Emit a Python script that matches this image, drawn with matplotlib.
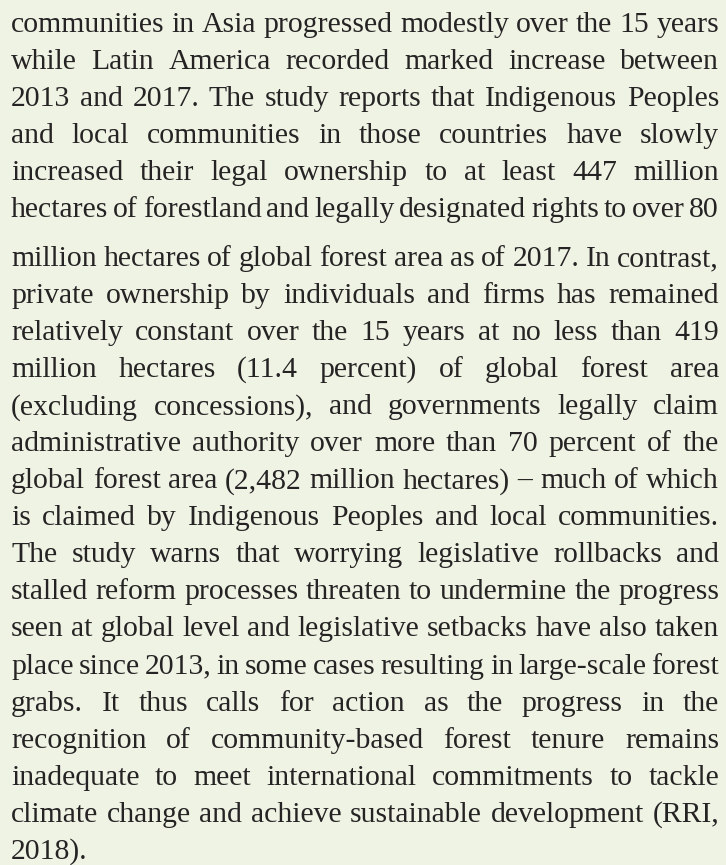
import matplotlib
matplotlib.use("Agg")
import matplotlib.pyplot as plt
from matplotlib.font_manager import FontProperties

# ---- content (the "data" of this figure) ----
para_a = [
    "communities in Asia progressed modestly over the 15 years",
    "while Latin America recorded marked increase between",
    "2013 and 2017. The study reports that Indigenous Peoples",
    "and local communities in those countries have slowly",
    "increased their legal ownership to at least 447 million",
    "hectares of forestland and legally designated rights to over 80",
]
para_b = [
    "million hectares of global forest area as of 2017. In contrast,",
    "private ownership by individuals and firms has remained",
    "relatively constant over the 15 years at no less than 419",
    "million hectares (11.4 percent) of global forest area",
    "(excluding concessions), and governments legally claim",
    "administrative authority over more than 70 percent of the",
    "global forest area (2,482 million hectares) \u2013 much of which",
    "is claimed by Indigenous Peoples and local communities.",
    "The study warns that worrying legislative rollbacks and",
    "stalled reform processes threaten to undermine the progress",
    "seen at global level and legislative setbacks have also taken",
    "place since 2013, in some cases resulting in large-scale forest",
    "grabs. It thus calls for action as the progress in the",
    "recognition of community-based forest tenure remains",
    "inadequate to meet international commitments to tackle",
    "climate change and achieve sustainable development (RRI,",
    "2018).",
]

# ---- layout ----
W, H = 726, 865
DPI = 100
BG = "#EFF3E4"
FG = "#262324"
X0, X1 = 11, 719
BASE_A = 31.5
BASE_B = 266.0
LEAD = 37.05

fig = plt.figure(figsize=(W / DPI, H / DPI), dpi=DPI, facecolor=BG)
ax = fig.add_axes([0, 0, 1, 1])
ax.set_xlim(0, W)
ax.set_ylim(H, 0)
ax.axis("off")
ax.set_facecolor(BG)

renderer = fig.canvas.get_renderer()
fam = "Liberation Serif"


def width(s, size):
    fp = FontProperties(family=fam, size=size)
    w, h, d = renderer.get_text_width_height_descent(s, fp, ismath=False)
    return w


# calibrate font size so a naturally set line spans the column
ref = para_a[0]
size = 20.0 * (X1 - X0) / width(ref, 20.0)


def draw_line(line, y, justify):
    words = line.split(" ")
    if not justify or len(words) == 1:
        ax.text(X0, y, line, family=fam, size=size, color=FG,
                ha="left", va="baseline")
        return
    ws = [width(w, size) for w in words]
    gap = ((X1 - X0) - sum(ws)) / (len(words) - 1)
    x = X0
    for w, wd in zip(words, ws):
        ax.text(x, y, w, family=fam, size=size, color=FG,
                ha="left", va="baseline")
        x += wd + gap


for i, line in enumerate(para_a):
    draw_line(line, BASE_A + i * LEAD, True)
for i, line in enumerate(para_b):
    draw_line(line, BASE_B + i * LEAD, i < len(para_b) - 1)

fig.savefig("out.png", dpi=DPI, facecolor=BG)
